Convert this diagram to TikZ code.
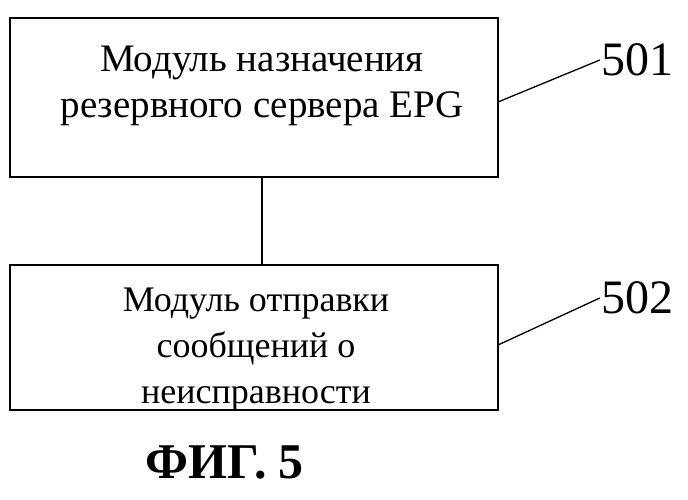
\documentclass[tikz,border=0pt]{standalone}
\usepackage{fontspec}
\setmainfont{Liberation Serif}
\begin{document}
\begin{tikzpicture}[x=1pt,y=-1pt,
  boxst/.style={draw,line width=1.6pt},
  txt/.style={font=\fontsize{39}{46}\selectfont,align=center},
  txtb/.style={font=\fontsize{36}{46}\selectfont,align=center},
  ln/.style={line width=1.3pt}]
\useasboundingbox (0,0) rectangle (688,499);
\draw[boxst] (10,18) rectangle (498,177);
\draw[boxst] (10,265) rectangle (498,410);
\node[txt] (t1) at (262,86) {Модуль назначения\\резервного сервера EPG};
\node[txtb] (t2) at (256,350) {Модуль отправки\\сообщений о\\неисправности};
\coordinate (b1) at (262,177);
\coordinate (b2) at (262,265);
\draw[ln] (b1) -- (b2);
\node[font=\fontsize{48}{50}\selectfont,inner sep=1pt] (l1) at (637,60) {501};
\node[font=\fontsize{48}{50}\selectfont,inner sep=1pt] (l2) at (637,298) {502};
\coordinate (a1) at (498,102);
\coordinate (a2) at (498,345);
\draw[ln] (a1) -- (l1.west);
\draw[ln] (a2) -- (l2.west);
\node[font=\fontsize{50}{52}\selectfont\bfseries] (cap) at (225,462) {ФИГ. 5};
\end{tikzpicture}
\end{document}
